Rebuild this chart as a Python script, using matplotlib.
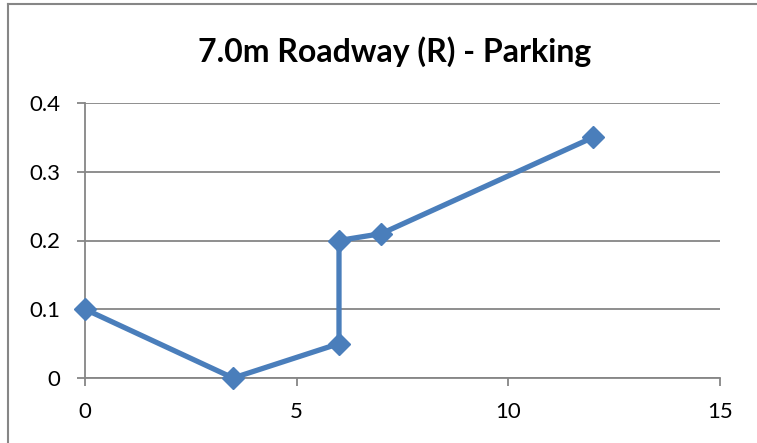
import matplotlib.pyplot as plt
from matplotlib.lines import Line2D

# data
dist = [0, 3.5, 6, 6, 7, 12]
level = [0.1, 0, 0.05, 0.2, 0.21, 0.35]
xticks = [0, 5, 10, 15]
yticks = [0, 0.1, 0.2, 0.3, 0.4]
ytick_labels = ['0', '0.1', '0.2', '0.3', '0.4']

blue = '#4a7ebb'
gray = '#868686'

plt.rcParams['font.family'] = ['Lato', 'DejaVu Sans']

fig = plt.figure(figsize=(7.57, 4.43), dpi=100)
ax = fig.add_axes([85/757, 1-378/443, (720-85)/757, (378-103)/443])

ax.plot(dist, level, color=blue, lw=3.8, marker='D', ms=11,
        markerfacecolor=blue, markeredgecolor=blue, solid_joinstyle='miter',
        clip_on=False, zorder=3)

ax.set_xlim(0, 15)
ax.set_ylim(0, 0.4)
ax.set_xticks(xticks)
ax.set_xticklabels([str(t) for t in xticks])
ax.set_yticks(yticks)
ax.set_yticklabels(ytick_labels)
ax.grid(axis='y', color=gray, lw=1.3)
ax.set_axisbelow(True)

for s in ['top', 'right']:
    ax.spines[s].set_visible(False)
for s in ['left', 'bottom']:
    ax.spines[s].set_color(gray)
    ax.spines[s].set_linewidth(1.3)

ax.tick_params(axis='both', colors=gray, labelcolor='black', labelsize=16,
               length=6, width=1.3, direction='out')
ax.tick_params(axis='x', pad=11)
ax.tick_params(axis='y', pad=12)

fig.text(395/757, 1-52/443, '7.0m Roadway (R) - Parking', ha='center', va='center',
         fontsize=23, fontweight='bold')

# chart border (cropped at right/bottom)
fig.add_artist(Line2D([8/757, 8/757], [0, 1-4/443], transform=fig.transFigure,
                      color=gray, lw=1.5))
fig.add_artist(Line2D([8/757, 1], [1-4/443, 1-4/443], transform=fig.transFigure,
                      color=gray, lw=1.5))

fig.savefig('out.png', dpi=100)
